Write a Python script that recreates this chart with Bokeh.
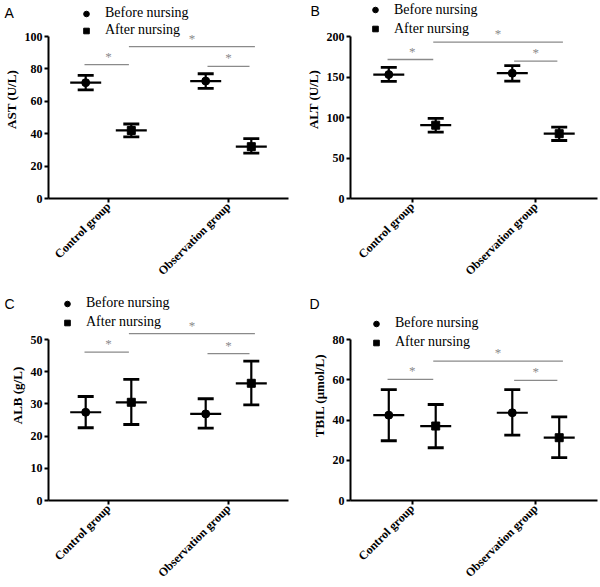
import math
from bokeh.plotting import figure
from bokeh.models import (ColumnDataSource, Whisker, TeeHead, Legend, LegendItem,
                          FactorRange, Range1d)
from bokeh.transform import dodge
from bokeh.layouts import gridplot
from bokeh.embed import file_html
from bokeh.resources import INLINE
from bokeh.core.properties import value

groups = ["Control group", "Observation group"]
series_names = ["Before nursing", "After nursing"]

# Panel A: AST (U/L)
ast_before_mean = [71.5, 72.5]
ast_before_low = [67.0, 68.0]
ast_before_high = [76.0, 77.0]
ast_after_mean = [42.0, 32.0]
ast_after_low = [38.0, 28.0]
ast_after_high = [46.0, 37.0]
ast_sig = [82.7, 81.5, 93.8]
ast_ticks = [0, 20, 40, 60, 80, 100]

# Panel B: ALT (U/L)
alt_before_mean = [153.0, 154.7]
alt_before_low = [144.5, 145.0]
alt_before_high = [162.0, 164.0]
alt_after_mean = [90.5, 80.0]
alt_after_low = [82.0, 71.6]
alt_after_high = [99.0, 88.0]
alt_sig = [171.6, 169.5, 193.0]
alt_ticks = [0, 50, 100, 150, 200]

# Panel C: ALB (g/L)
alb_before_mean = [27.4, 26.9]
alb_before_low = [22.6, 22.5]
alb_before_high = [32.3, 31.6]
alb_after_mean = [30.5, 36.4]
alb_after_low = [23.6, 29.7]
alb_after_high = [37.6, 43.3]
alb_sig = [46.1, 45.6, 51.8]
alb_ticks = [0, 10, 20, 30, 40, 50]

# Panel D: TBIL (umol/L)
tbil_before_mean = [42.4, 43.6]
tbil_before_low = [29.7, 32.5]
tbil_before_high = [55.1, 55.1]
tbil_after_mean = [37.0, 31.2]
tbil_after_low = [26.2, 21.3]
tbil_after_high = [47.7, 41.6]
tbil_sig = [60.2, 59.7, 69.3]
tbil_ticks = [0, 20, 40, 60, 80]

SERIF = "Liberation Serif"
SANS = "Liberation Sans"
GREY = "#8a8a8a"
DODGE = 0.19
TOP = 0


def make_panel(letter, ylabel, ticks, bmean, blo, bhi, amean, alo, ahi, sig,
               W, H, left, right, bottom, top_tick_px, leg_x, leg_top, leg_row,
               leg_standoff, letter_x, letter_standoff):
    frame_h = H - bottom - TOP
    ymax = ticks[-1]
    px_per_unit = (frame_h - (top_tick_px - TOP)) / ymax
    yend = frame_h / px_per_unit
    p = figure(width=W, height=H, x_range=FactorRange(factors=groups, range_padding=0),
               y_range=Range1d(0, yend), output_backend="svg", toolbar_location=None,
               min_border_left=left, min_border_right=right, min_border_top=TOP,
               min_border_bottom=bottom, title="\n\n" + letter)
    p.title.align = "left"
    p.title.vertical_align = "top"
    p.title.offset = letter_x - left
    p.title.standoff = letter_standoff
    p.title.text_font = SANS
    p.title.text_font_style = "normal"
    p.title.text_font_size = "14px"
    p.title.text_line_height = 1.0
    p.title.text_color = "black"
    p.outline_line_color = None
    p.grid.visible = False
    p.background_fill_color = "white"

    bsrc = ColumnDataSource(dict(g=groups, m=bmean, lo=blo, hi=bhi))
    asrc = ColumnDataSource(dict(g=groups, m=amean, lo=alo, hi=ahi))
    rends = []
    for src, off, marker in [(bsrc, -DODGE, "circle"), (asrc, DODGE, "square")]:
        xs = dodge("g", off, range=p.x_range)
        w = Whisker(source=src, base=xs, upper="hi", lower="lo",
                    line_color="black", line_width=2.2,
                    upper_head=TeeHead(size=16, line_width=2.8, line_color="black"),
                    lower_head=TeeHead(size=16, line_width=2.8, line_color="black"))
        p.add_layout(w)
        p.scatter(x=xs, y="m", source=src, marker="dash", size=31,
                  line_color="black", line_width=2.2)
        r = p.scatter(x=xs, y="m", source=src, marker=marker, size=8,
                      fill_color="black", line_color="black")
        rends.append(r)

    # significance brackets
    ssrc = ColumnDataSource(dict(c=[groups[0]], o=[groups[1]], y1=[sig[0]], y2=[sig[1]], y3=[sig[2]]))
    p.segment(x0=dodge("c", -0.20, range=p.x_range), x1=dodge("c", 0.17, range=p.x_range),
              y0="y1", y1="y1", source=ssrc, line_color=GREY, line_width=1.3)
    p.segment(x0=dodge("o", -0.175, range=p.x_range), x1=dodge("o", 0.175, range=p.x_range),
              y0="y2", y1="y2", source=ssrc, line_color=GREY, line_width=1.3)
    p.segment(x0=dodge("c", 0.17, range=p.x_range), x1=dodge("o", 0.22, range=p.x_range),
              y0="y3", y1="y3", source=ssrc, line_color=GREY, line_width=1.3)
    for xs, yf in [(dodge("c", 0.0, range=p.x_range), "y1"),
                   (dodge("o", 0.0, range=p.x_range), "y2"),
                   (dodge("c", 0.695, range=p.x_range), "y3")]:
        p.text(x=xs, y=yf, text=value("*"), source=ssrc, text_align="center",
               text_baseline="bottom", y_offset=-1, text_color=GREY,
               text_font=value(SERIF), text_font_size="13px")

    # axes
    p.yaxis.bounds = (0, ymax)
    p.yaxis.ticker = ticks
    p.yaxis.axis_label = ylabel
    for ax in (p.xaxis[0], p.yaxis[0]):
        ax.axis_line_width = 2
        ax.axis_line_color = "black"
        ax.major_tick_line_width = 2
        ax.major_tick_line_color = "black"
        ax.major_tick_out = 4
        ax.major_tick_in = 0
        ax.minor_tick_line_color = None
        ax.major_label_text_font = SERIF
        ax.major_label_text_font_style = "bold"
        ax.major_label_text_font_size = "12px"
        ax.major_label_text_color = "black"
        ax.major_label_standoff = 2
    p.yaxis.axis_label_text_font = SERIF
    p.yaxis.axis_label_text_font_style = "bold"
    p.yaxis.axis_label_text_font_size = "13px"
    p.yaxis.axis_label_text_color = "black"
    p.yaxis.axis_label_standoff = 3
    p.xaxis.major_label_orientation = math.pi / 4

    leg = Legend(items=[LegendItem(label=series_names[0], renderers=[rends[0]]),
                        LegendItem(label=series_names[1], renderers=[rends[1]])],
                 location=(leg_x - left, frame_h - (leg_top - TOP) - 2 * leg_row),
                 orientation="vertical", padding=0, margin=0, spacing=0,
                 glyph_width=14, glyph_height=leg_row, label_height=leg_row,
                 label_standoff=leg_standoff, border_line_color=None,
                 background_fill_alpha=0, label_text_font=SERIF,
                 label_text_font_size="14px", label_text_color="black")
    p.add_layout(leg)
    return p


pa = make_panel("A", "AST (U/L)", ast_ticks, ast_before_mean, ast_before_low, ast_before_high,
                ast_after_mean, ast_after_low, ast_after_high, ast_sig,
                300, 290, 48, 12, 92, 36, 79, 4.5, 17, 12, 4, -55)
pb = make_panel("B", "ALT (U/L)", alt_ticks, alt_before_mean, alt_before_low, alt_before_high,
                alt_after_mean, alt_after_low, alt_after_high, alt_sig,
                300, 290, 49, 3, 92, 36, 67, 0, 19, 12, 9, -59)
pc = make_panel("C", "ALB (g/L)", alb_ticks, alb_before_mean, alb_before_low, alb_before_high,
                alb_after_mean, alb_after_low, alb_after_high, alb_sig,
                300, 297, 48, 12, 87, 49, 60, 3.5, 19, 12, 4, -53)
pd_ = make_panel("D", "TBIL (\u03bcmol/L)", tbil_ticks, tbil_before_mean, tbil_before_low, tbil_before_high,
                 tbil_after_mean, tbil_after_low, tbil_after_high, tbil_sig,
                 300, 297, 50, 3, 87, 49, 69, 23.5, 19, 12, 9, -53)

grid = gridplot([[pa, pb], [pc, pd_]], toolbar_location=None)
open("out.html", "w").write(file_html(grid, INLINE))
